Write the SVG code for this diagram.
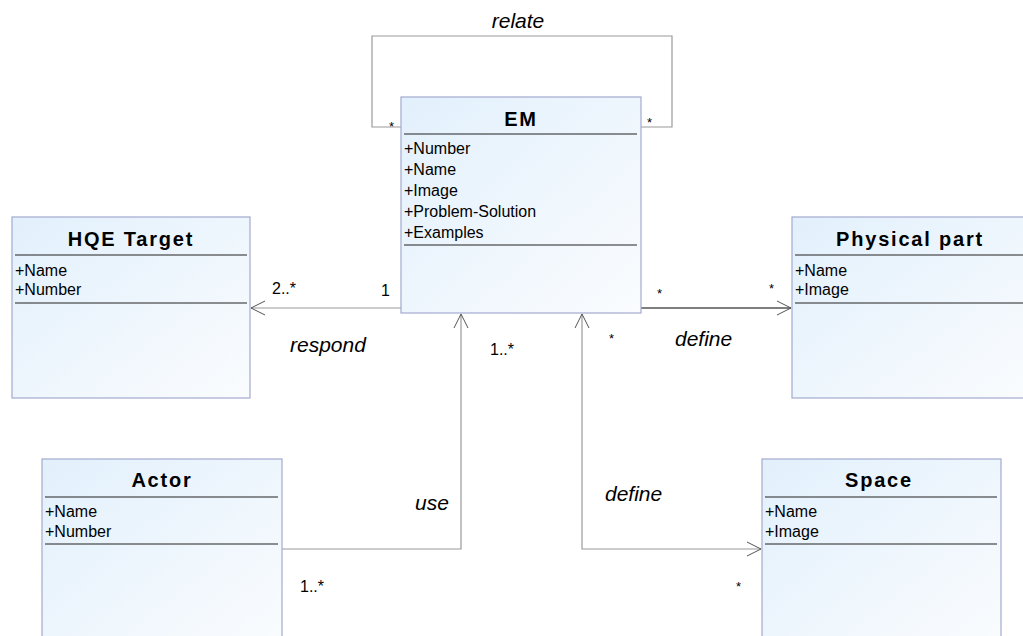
<svg xmlns="http://www.w3.org/2000/svg" width="1023" height="636" viewBox="0 0 1023 636">
<defs>
<linearGradient id="bg" x1="0" y1="0" x2="1" y2="1">
<stop offset="0" stop-color="#e2f0fc"/>
<stop offset="1" stop-color="#fafcfe"/>
</linearGradient>
<marker id="arr" markerWidth="18" markerHeight="16" refX="15" refY="8" orient="auto-start-reverse" markerUnits="userSpaceOnUse">
<path d="M1,1 L15,8 L1,15" fill="none" stroke="#555" stroke-width="1"/>
</marker>
</defs>
<style>
.box{fill:url(#bg);stroke:#a3aad0;stroke-width:1.2}
.sep{stroke:#222;stroke-width:1.2}
.title{font-family:"Liberation Sans",Arial,sans-serif;font-weight:bold;font-size:20px;letter-spacing:1.8px;text-anchor:middle;fill:#000}
.attr{font-family:"Liberation Sans",Arial,sans-serif;font-size:16px;fill:#000}
.lbl{font-family:"Liberation Sans",Arial,sans-serif;font-style:italic;font-size:21px;fill:#000}
.mul{font-family:"Liberation Sans",Arial,sans-serif;font-size:16px;fill:#000}
.star{font-family:"Liberation Sans",Arial,sans-serif;font-size:13px;fill:#000}
.con{fill:none;stroke:#9a9a9a;stroke-width:1.2}
.conb{fill:none;stroke:#000;stroke-width:1.2}
</style>
<g id="connectors">
<path class="con" d="M401,127 H372 V36 H672 V127 H641"/>
<path class="con" d="M401,308 H251" marker-end="url(#arr)"/>
<path class="conb" d="M641,308 H791" marker-end="url(#arr)"/>
<path class="con" d="M282,549 H461 V314" marker-end="url(#arr)"/>
<path class="con" d="M582,314 V549 H761" marker-end="url(#arr)" marker-start="url(#arr)"/>
</g>
<g id="labels">
<text class="lbl" x="518" y="28" text-anchor="middle">relate</text>
<text class="star" x="389" y="131">*</text>
<text class="star" x="647" y="127">*</text>
<text class="mul" x="272" y="294">2..*</text>
<text class="mul" x="381" y="296">1</text>
<text class="lbl" x="290" y="352">respond</text>
<text class="star" x="657" y="298">*</text>
<text class="star" x="769" y="293">*</text>
<text class="lbl" x="675" y="346">define</text>
<text class="star" x="609" y="343">*</text>
<text class="mul" x="490" y="355">1..*</text>
<text class="lbl" x="415" y="510">use</text>
<text class="mul" x="300" y="592">1..*</text>
<text class="lbl" x="605" y="501">define</text>
<text class="star" x="736" y="591">*</text>
</g>
<g id="EM">
<rect class="box" x="401" y="97" width="240" height="216"/>
<text class="title" x="521" y="126">EM</text>
<line class="sep" x1="404" y1="134" x2="637" y2="134"/>
<text class="attr" x="404" y="154">+Number</text>
<text class="attr" x="404" y="175">+Name</text>
<text class="attr" x="404" y="196">+Image</text>
<text class="attr" x="404" y="217">+Problem-Solution</text>
<text class="attr" x="404" y="238">+Examples</text>
<line class="sep" x1="404" y1="245" x2="637" y2="245"/>
</g>
<g id="HQE">
<rect class="box" x="12" y="217" width="238" height="181"/>
<text class="title" x="131" y="246">HQE Target</text>
<line class="sep" x1="15" y1="255" x2="247" y2="255"/>
<text class="attr" x="15" y="276">+Name</text>
<text class="attr" x="15" y="295">+Number</text>
<line class="sep" x1="15" y1="303" x2="247" y2="303"/>
</g>
<g id="PhysicalPart">
<rect class="box" x="792" y="217" width="240" height="181"/>
<text class="title" x="910" y="246">Physical part</text>
<line class="sep" x1="795" y1="255" x2="1029" y2="255"/>
<text class="attr" x="795" y="276">+Name</text>
<text class="attr" x="795" y="295">+Image</text>
<line class="sep" x1="795" y1="303" x2="1029" y2="303"/>
</g>
<g id="Actor">
<rect class="box" x="42" y="459" width="240" height="190"/>
<text class="title" x="162" y="487">Actor</text>
<line class="sep" x1="45" y1="497" x2="278" y2="497"/>
<text class="attr" x="45" y="517">+Name</text>
<text class="attr" x="45" y="537">+Number</text>
<line class="sep" x1="45" y1="544" x2="278" y2="544"/>
</g>
<g id="Space">
<rect class="box" x="762" y="459" width="239" height="190"/>
<text class="title" x="879" y="487">Space</text>
<line class="sep" x1="765" y1="497" x2="997" y2="497"/>
<text class="attr" x="765" y="517">+Name</text>
<text class="attr" x="765" y="537">+Image</text>
<line class="sep" x1="765" y1="544" x2="997" y2="544"/>
</g>
</svg>
